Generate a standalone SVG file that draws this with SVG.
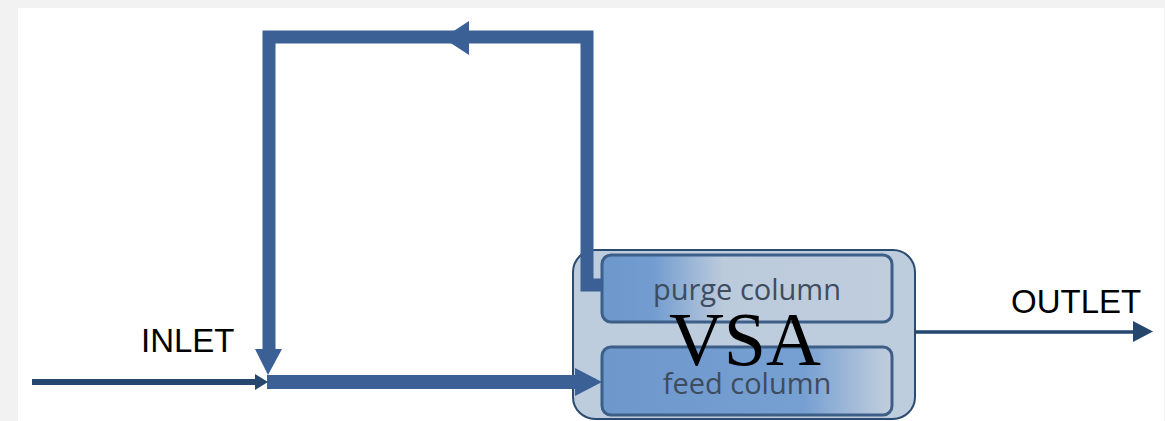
<svg xmlns="http://www.w3.org/2000/svg" width="1165" height="421" viewBox="0 0 1165 421">
  <style>
    .flow { fill: none; stroke: #3a6095; stroke-linejoin: miter; stroke-linecap: butt; }
    .head { fill: #3a6095; }
    .thin { fill: none; stroke: #25466d; }
    .thinhead { fill: #25466d; }
    .label { font-family: "Liberation Sans", Arial, sans-serif; font-size: 33px; fill: #000; }
    .col { stroke: #3d5e87; stroke-width: 3; }
    .coltext { font-family: "Open Sans", "Noto Sans", sans-serif; font-size: 29px; fill: #3e4c5e; text-anchor: middle; }
    .big { font-family: "Liberation Serif", "Times New Roman", serif; font-size: 76px; fill: #000; text-anchor: middle; }
  </style>
  <defs>
    <linearGradient id="purgeFill" x1="0" y1="0" x2="1" y2="0">
      <stop offset="0" stop-color="#6d98cc"/>
      <stop offset="0.18" stop-color="#739dd0"/>
      <stop offset="0.42" stop-color="#bccbdc"/>
      <stop offset="1" stop-color="#bfcddd"/>
    </linearGradient>
    <linearGradient id="feedFill" x1="0" y1="0" x2="1" y2="0">
      <stop offset="0" stop-color="#6d98cc"/>
      <stop offset="0.7" stop-color="#77a0d2"/>
      <stop offset="0.97" stop-color="#bccbdc"/>
      <stop offset="1" stop-color="#bfcddd"/>
    </linearGradient>
  </defs>

  <!-- page -->
  <rect x="0" y="0" width="1165" height="421" fill="#f2f2f2"/>
  <rect x="18" y="8" width="1146" height="413" fill="#ffffff"/>

  <!-- VSA unit with its two columns -->
  <g id="vsa">
    <rect x="573" y="250" width="342" height="169" rx="22" ry="22" fill="#bdcddd" stroke="#2b4a70" stroke-width="2"/>
  </g>
  <g id="purge-column">
    <rect class="col" x="602" y="255" width="290" height="67" rx="9" ry="9" fill="url(#purgeFill)"/>
    <text class="coltext" x="747" y="300">purge column</text>
  </g>
  <g id="feed-column">
    <rect class="col" x="602" y="347" width="290" height="68" rx="9" ry="9" fill="url(#feedFill)"/>
    <text class="coltext" x="747" y="394">feed column</text>
  </g>
  <g id="vsa-label">
    <text class="big" x="745" y="365">VSA</text>
  </g>

  <!-- stream labels -->
  <g id="inlet">
    <text class="label" x="141" y="352">INLET</text>
  </g>
  <g id="outlet">
    <text class="label" x="1011" y="313">OUTLET</text>
  </g>

  <!-- connectors -->
  <g id="connectors">
    <!-- recycle loop from purge column back to the feed line -->
    <path class="flow" stroke-width="13" d="M602 285 H587 V37 H269 V350"/>
    <polygon class="head" points="443,38 469,21 469,55"/>
    <polygon class="head" points="255,349 282,349 268,375"/>
    <!-- feed line into feed column -->
    <path class="flow" stroke-width="14" d="M267 382 H577"/>
    <polygon class="head" points="575,368 575,396 602,382"/>
    <!-- inlet stream -->
    <path class="thin" stroke-width="6" d="M32 382 H257"/>
    <polygon class="thinhead" points="255,374 255,390 268,382"/>
    <!-- outlet stream -->
    <path class="thin" stroke-width="3.5" d="M916 332 H1135"/>
    <polygon class="thinhead" points="1133,321 1133,342 1153,331.5"/>
  </g>
</svg>
